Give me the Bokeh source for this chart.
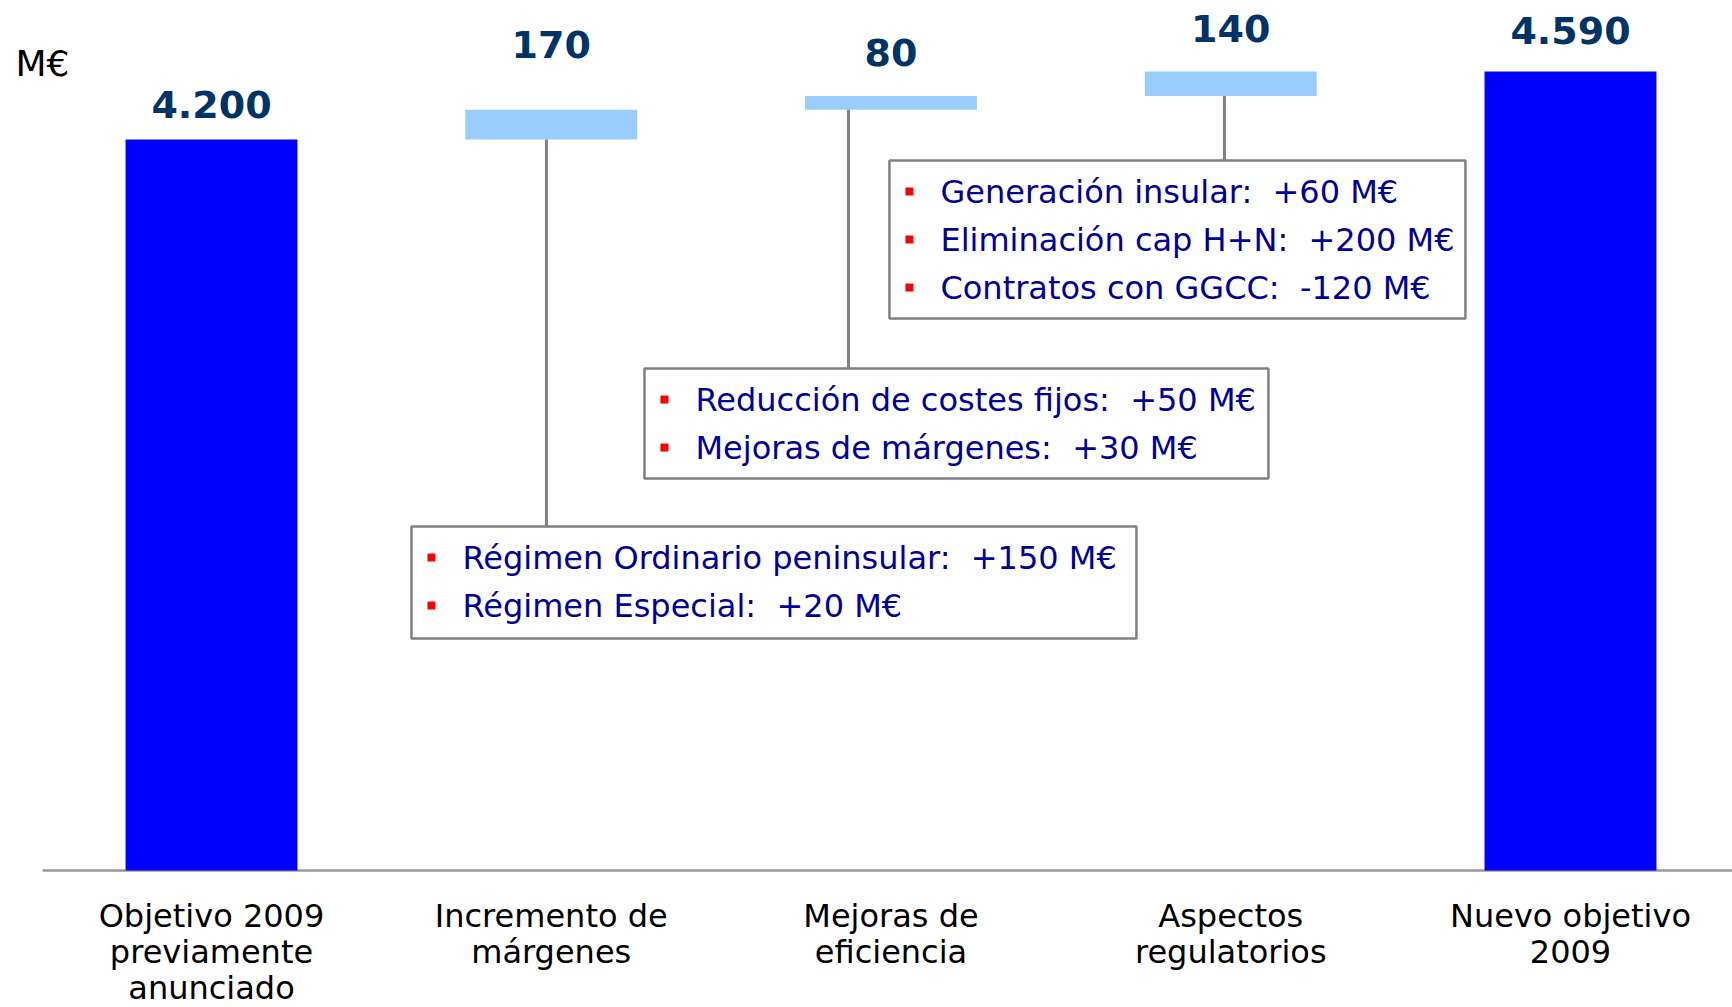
from bokeh.plotting import figure
from bokeh.models import Range1d
from bokeh.core.properties import value
from bokeh.embed import file_html
from bokeh.resources import INLINE

# ---------------- data ----------------
categories = ["Objetivo 2009\npreviamente\nanunciado", "Incremento de\nmárgenes",
              "Mejoras de\neficiencia", "Aspectos\nregulatorios", "Nuevo objetivo\n2009"]
values = [4200, 170, 80, 140, 4590]
kinds = ["total", "delta", "delta", "delta", "total"]
value_labels = ["4.200", "170", "80", "140", "4.590"]
unit_label = "M€"
NB = "\u00a0"
details_1 = [f"Régimen Ordinario peninsular:{NB} +150 M€", f"Régimen Especial:{NB} +20 M€"]
details_2 = [f"Reducción de costes fijos:{NB} +50 M€", f"Mejoras de márgenes:{NB} +30 M€"]
details_3 = [f"Generación insular:{NB} +60 M€", f"Eliminación cap H+N:{NB} +200 M€",
             f"Contratos con GGCC:{NB} -120 M€"]

# ---------------- layout ----------------
W, H = 1732, 1007
ux = 339.75
uy = 0.17406
X0 = -211 / ux
X1 = X0 + W / ux
Y1 = 870 / uy
Y0 = -(H - 870) / uy
def dx(px): return px / ux
def dy(px): return px / uy

FONT = "DejaVu Sans"
BLUE, LIGHT = "#0000FF", "#99CCFF"
NAVY, TXT, GREY = "#003366", "#000099", "#808080"

# waterfall geometry from data
bottoms, tops = [], []
run = 0
for v, k in zip(values, kinds):
    if k == "total":
        bottoms.append(0); tops.append(v); run = v
    else:
        bottoms.append(run); tops.append(run + v); run += v
xs = list(range(len(values)))
colors = [BLUE if k == "total" else LIGHT for k in kinds]

p = figure(width=W, height=H, output_backend="svg", toolbar_location=None,
           x_range=Range1d(X0, X1), y_range=Range1d(Y0, Y1),
           min_border_left=0, min_border_right=0, min_border_top=0, min_border_bottom=0)
p.axis.visible = False
p.grid.visible = False
p.outline_line_color = None
p.background_fill_color = "white"
p.border_fill_color = "white"

# baseline (category axis line)
p.segment(x0=[X0 + dx(42)], y0=[0], x1=[X1], y1=[0], line_color="#999999", line_width=2.5)

# bars
p.vbar(x=xs, width=0.506, top=tops, bottom=bottoms, fill_color=colors, line_color=None)

# value labels
label_offsets = [35, 65, 43, 43, 41.5]
p.text(x=xs, y=[t + dy(o) for t, o in zip(tops, label_offsets)], text=value_labels,
       text_font=value(FONT), text_font_style="bold", text_font_size="38px",
       text_color=NAVY, text_align="center", text_baseline="middle")

# category labels
p.text(x=xs, y=[-dy(26)] * len(xs), text=categories, text_font=value(FONT),
       text_font_size="32px", text_color="black", text_align="center",
       text_baseline="top", text_line_height=0.95)

# unit label
p.text(x=[X0 + dx(15)], y=[Y1 - dy(63)], text=[unit_label], text_font=value(FONT),
       text_font_size="36px", text_color="black", text_align="left", text_baseline="middle")

# detail boxes
boxes = [
    (1, details_1, 0.5886, 2.7224, 1976.2, 1332.8, 0.9859),
    (2, details_2, 1.2744, 3.1109, 2883.9, 2252.0, 1.8748),
    (3, details_3, 1.9954, 3.6907, 4078.8, 3171.1, 2.9814),
]
for idx, lines, left, right, top, bottom, cx in boxes:
    p.segment(x0=[cx], y0=[bottoms[idx]], x1=[cx], y1=[top], line_color=GREY, line_width=3)
    p.quad(left=[left], right=[right], top=[top], bottom=[bottom],
           fill_color="white", line_color=GREY, line_width=2.5)
    ys = [top - dy(31 + 48 * i) for i in range(len(lines))]
    p.scatter(x=[left + dx(20)] * len(lines), y=ys, marker="square", size=8,
              fill_color="#FF0000", line_color=None)
    p.text(x=[left + dx(51)] * len(lines), y=ys, text=lines, text_font=value(FONT),
           text_font_size="32px", text_color=TXT, text_align="left", text_baseline="middle")

open("out.html", "w").write(file_html(p, INLINE))
